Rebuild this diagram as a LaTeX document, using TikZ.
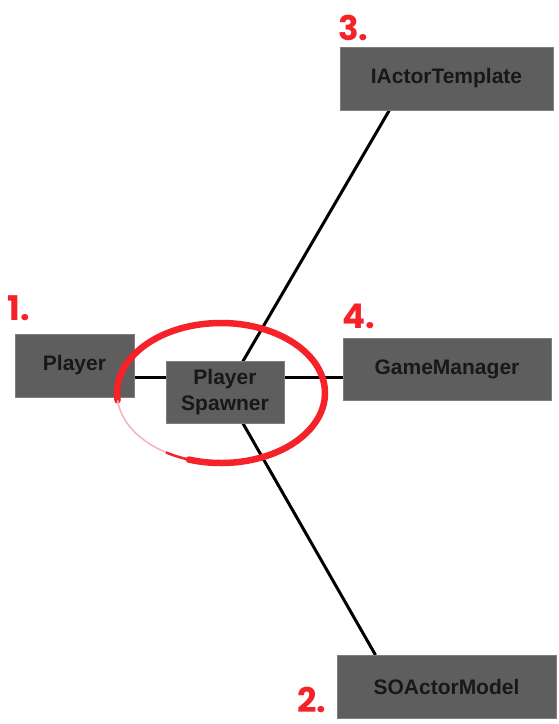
\documentclass[tikz,border=0pt]{standalone}
\usepackage{fontspec}
\setmainfont{Liberation Sans}
\newfontfamily\numfont{Poppins}
\definecolor{box}{HTML}{5E5E5E}
\definecolor{rim}{HTML}{7E7E7E}
\definecolor{ink}{HTML}{181818}
\definecolor{numred}{HTML}{F5222A}
\definecolor{fade}{HTML}{F2B4B8}
\usetikzlibrary{backgrounds}
\tikzstyle{base}=[x=1pt, y=-1pt, inner sep=0pt, outer sep=0pt]
\tikzstyle{unit}=[draw=rim, line width=0.8pt, fill=box, text=ink, align=center, minimum height=63pt, font=\bfseries\fontsize{21}{26}\selectfont]
\tikzstyle{num}=[numred, anchor=base west, font=\numfont\bfseries\fontsize{34}{34}\selectfont]
\tikzstyle{link}=[black, line width=3pt]
\tikzstyle{ringline}=[numred, line width=6.5pt, line cap=round]

\begin{document}
\begin{tikzpicture}[base]
    \useasboundingbox (0,0) rectangle (558,724);
    % boxes
    \node [unit, minimum width=119pt] (player) at (74.5,365.5) {Player};
    \node [unit, minimum width=118pt, minimum height=62pt] (spawner) at (225,392) {Player\\Spawner};
    \node [unit, minimum width=208pt, minimum height=62pt] (gm) at (447,369) {GameManager};
    \node [unit, minimum width=213pt] (iat) at (446.5,78.5) {IActorTemplate};
    \node [unit, minimum width=219pt] (soam) at (446.5,686.5) {SOActorModel};
    % numbers
    \node [num] (n1) at (8,320) {1.};
    \node [num] (n2) at (297,712) {2.};
    \node [num] (n3) at (338,40) {3.};
    \node [num] (n4) at (342,328) {4.};
    % links
    \coordinate (hub) at (0,377);
    \begin{scope}[on background layer]
        \draw [link] (player.east |- hub) -- (gm.west |- hub);
        \draw [link] (spawner.center) -- ([xshift=-57pt]iat.south);
        \draw [link] (spawner.center) -- ([xshift=-71pt]soam.north);
    \end{scope}
    % ring
    \coordinate (ring) at (221,393);
    \draw [ringline] (ring) ++(174:104 and 70) arc [start angle=174, end angle=468, x radius=104, y radius=70];
    \draw [numred, line width=2.5pt] (ring) ++(460:104 and 70) arc [start angle=460, end angle=482, x radius=104, y radius=70];
    \draw [fade, line width=1.5pt] (ring) ++(482:104 and 70) arc [start angle=482, end angle=534, x radius=104, y radius=70];
\end{tikzpicture}
\end{document}
